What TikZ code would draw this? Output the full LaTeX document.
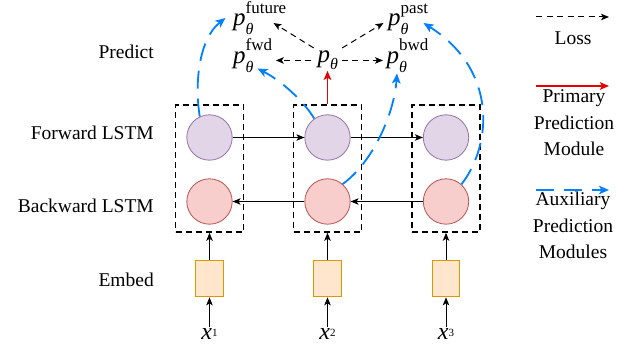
\documentclass[tikz,border=0pt]{standalone}
\usepackage{fontspec}
\setmainfont{Liberation Serif}[ItalicFont={Liberation Serif Italic}]
\usepackage{tikz}
\usetikzlibrary{arrows.meta, positioning, calc}
\definecolor{fwdfill}{RGB}{225, 213, 231}
\definecolor{fwdline}{RGB}{150, 115, 166}
\definecolor{bwdfill}{RGB}{248, 206, 204}
\definecolor{bwdline}{RGB}{184, 84, 80}
\definecolor{embfill}{RGB}{255, 230, 204}
\definecolor{embline}{RGB}{215, 155, 0}
\definecolor{primred}{RGB}{230, 0, 0}
\definecolor{auxblue}{RGB}{0, 127, 255}

\newcommand{\lblsz}{\fontsize{19.5}{23}\selectfont}
\newcommand{\supsz}{\fontsize{17}{17}\selectfont}
\newcommand{\subsz}{\fontsize{16}{16}\selectfont}
% p_theta with a superscript
\newcommand{\pth}[1]{\textit{p}\makebox[0pt][l]{\raisebox{-9pt}{\subsz\textit{θ}}}\raisebox{12.5pt}{\supsz #1}}

\tikzset{
  lstmfwd/.style={circle, draw=fwdline, fill=fwdfill, line width=0.8pt,
    minimum size=45.4pt, inner sep=0pt},
  lstmbwd/.style={circle, draw=bwdline, fill=bwdfill, line width=0.8pt,
    minimum size=45.4pt, inner sep=0pt},
  cellbox/.style={draw, line width=1.6pt, dash pattern=on 6pt off 4pt,
    minimum width=68pt, minimum height=127pt, inner sep=0pt},
  embbox/.style={draw=embline, fill=embfill, line width=1pt,
    minimum width=27.5pt, minimum height=36.7pt, inner sep=0pt},
  token/.style={anchor=base, font=\fontsize{24}{24}\selectfont, inner sep=2pt},
  rowlabel/.style={anchor=base east, font=\lblsz, inner sep=0pt},
  legtext/.style={anchor=base, font=\lblsz, align=center, inner sep=0pt},
  pnode/.style={anchor=base west, font=\fontsize{25}{25}\selectfont, inner sep=0.5pt},
  flow/.style={-{Stealth[length=8pt, width=6.5pt, inset=2pt]}, line width=1pt},
  loss/.style={-{Stealth[length=8pt, width=6.5pt, inset=2pt]}, line width=1pt,
    dash pattern=on 6pt off 4.5pt},
  primary/.style={-{Stealth[length=9pt, width=7.5pt, inset=2pt]}, line width=1.8pt,
    draw=primred},
  aux/.style={-{Stealth[length=10pt, width=8.5pt, inset=2.5pt]}, line width=1.8pt,
    draw=auxblue, dash pattern=on 18pt off 10pt},
}

\begin{document}
\begin{tikzpicture}[x=1pt, y=-1pt]
\useasboundingbox (0,0) rectangle (635,352);

% row labels
\node[rowlabel] (lpredict) at (154,59) {Predict};
\node[rowlabel] (lforward) at (154,140) {Forward LSTM};
\node[rowlabel] (lbackward) at (154,213) {Backward LSTM};
\node[rowlabel] (lembed) at (154,287) {Embed};

% columns
\foreach \i/\cx in {1/209.5, 2/327.5, 3/446} {
  \node[cellbox] (cell\i) at (\cx,168.5) {};
  \node[lstmfwd] (fwd\i) at (\cx,137.5) {};
  \node[lstmbwd] (bwd\i) at (\cx,201.5) {};
  \node[embbox] (emb\i) at (\cx,278.5) {};
  \node[token] (x\i) at (\cx,340) {\textit{x}\raisebox{3pt}{\fontsize{11}{11}\selectfont\i}};
  \draw[flow] (x\i) -- (emb\i);
  \draw[flow] (emb\i) -- (cell\i);
}

\draw[flow] (fwd1) -- (fwd2);
\draw[flow] (fwd2) -- (fwd3);
\draw[flow] (bwd3) -- (bwd2);
\draw[flow] (bwd2) -- (bwd1);

% predictions
\node[pnode] (pfut) at (232.5,26) {\pth{future}};
\node[pnode] (ppast) at (387.5,26) {\pth{past}};
\node[pnode] (pfwd) at (232.5,63.5) {\pth{fwd}};
\node[pnode] (pbwd) at (386,63.5) {\pth{bwd}};
\node[pnode] (pmain) at (317,62.5) {\textit{p}\raisebox{-7.5pt}{\subsz\textit{θ}}};

\draw[primary] (cell2.north) -- (cell2.north |- pmain.south);

\draw[loss, shorten <=6pt, shorten >=3pt] (pmain.west) -- (pmain.west -| pfwd.east);
\draw[loss, shorten <=3pt, shorten >=3pt] (pmain.east) -- (pmain.east -| pbwd.west);
\draw[loss, shorten <=4pt] (pmain.north west) -- ($(pfut.base west)+(41,-3)$);
\draw[loss, shorten <=4pt] (pmain.north east) -- ($(ppast.base west)+(-4,-3)$);

\draw[aux] (fwd1.115) .. controls (194,80) and (200,38) .. ($(pfut.base west)+(-7,-8)$);
\draw[aux] (fwd2.125) .. controls (303,100) and (280,80) .. ($(pfwd.base west)+(25,5)$);
\draw[aux] (bwd2.49) .. controls (372,163) and (394,115) .. ($(pbwd.base west)+(11,10)$);
\draw[aux] (bwd3.48) .. controls (492,145) and (498,70) .. ($(ppast.base west)+(36,-3)$);

% legend
\coordinate (lossA) at (536,17);
\coordinate (lossB) at (609,17);
\coordinate (primA) at (536,86);
\coordinate (primB) at (609,86);
\coordinate (auxA) at (536,190);
\coordinate (auxB) at (609,190);
\draw[loss] (lossA) -- (lossB);
\draw[primary] (primA) -- (primB);
\draw[aux] (auxA) -- (auxB);
\node[legtext] (tloss) at (573,45) {Loss};
\node[legtext] (tprim) at (574,156) {Primary\\[3.5pt]Prediction\\[3.5pt]Module};
\node[legtext] (taux) at (573,259) {Auxiliary\\[3.5pt]Prediction\\[3.5pt]Modules};
\end{tikzpicture}
\end{document}
